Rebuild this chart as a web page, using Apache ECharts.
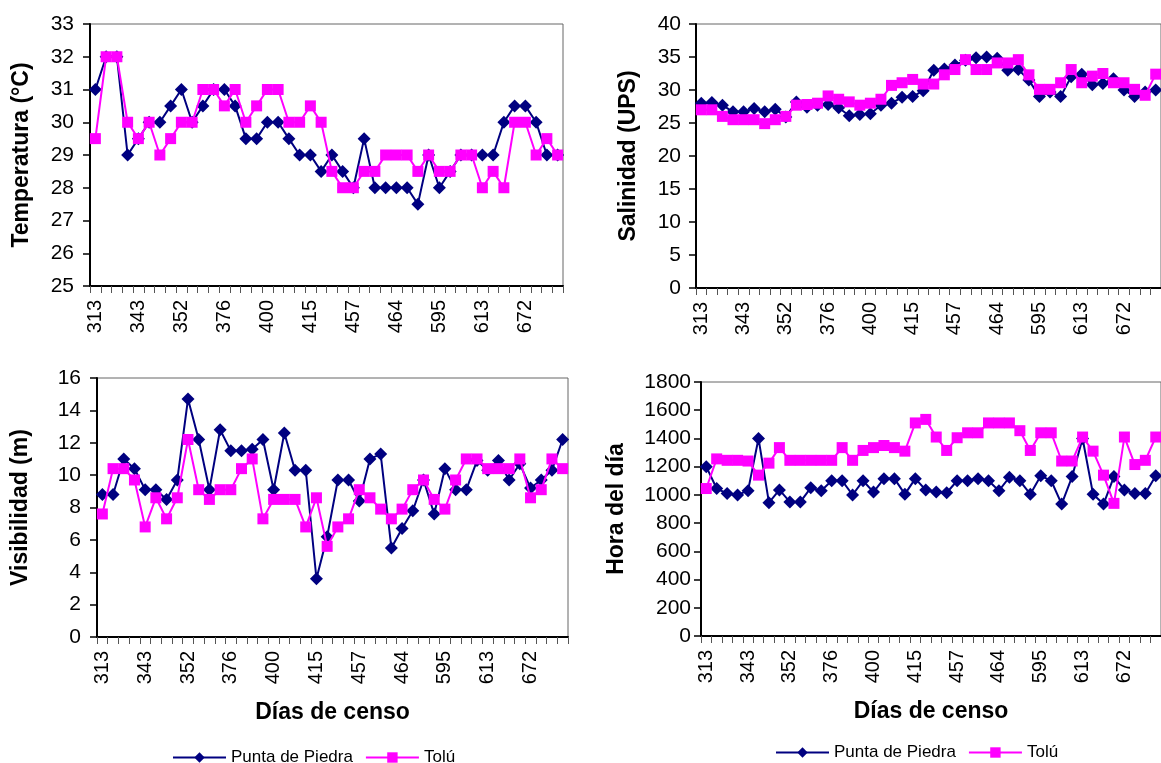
<!DOCTYPE html>
<html>
<head>
<meta charset="utf-8">
<script src="https://cdn.jsdelivr.net/npm/echarts@6/dist/echarts.min.js"></script>
<style>
  html, body { margin: 0; padding: 0; background: #ffffff; }
  #chart { width: 1161px; height: 763px; }
</style>
</head>
<body>
<div id="chart"></div>
<script>
// Census days: one label is printed for every fourth census
const tickLabels = ['313', '343', '352', '376', '400', '415', '457', '464', '595', '613', '672'];
const censusCount = 44;

const seriesNames = ['Punta de Piedra', 'Tolú'];

// Temperatura (°C)
const temperaturaPunta = [31, 32, 32, 29, 29.5, 30, 30, 30.5, 31, 30, 30.5, 31, 31, 30.5, 29.5, 29.5, 30, 30, 29.5, 29, 29, 28.5, 29, 28.5, 28, 29.5, 28, 28, 28, 28, 27.5, 29, 28, 28.5, 29, 29, 29, 29, 30, 30.5, 30.5, 30, 29, 29];
const temperaturaTolu = [29.5, 32, 32, 30, 29.5, 30, 29, 29.5, 30, 30, 31, 31, 30.5, 31, 30, 30.5, 31, 31, 30, 30, 30.5, 30, 28.5, 28, 28, 28.5, 28.5, 29, 29, 29, 28.5, 29, 28.5, 28.5, 29, 29, 28, 28.5, 28, 30, 30, 29, 29.5, 29];

// Salinidad (UPS)
const salinidadPunta = [28, 28.1, 27.7, 26.7, 26.7, 27.2, 26.7, 27.1, 25.9, 28.2, 27.4, 27.7, 27.8, 27.3, 26.1, 26.3, 26.4, 27.7, 28, 28.9, 29, 29.9, 33, 33.2, 33.8, 34.5, 34.9, 35, 34.8, 33, 33.1, 31.5, 29, 29.7, 29, 32, 32.4, 30.8, 31, 31.7, 30, 29, 29.7, 30];
const salinidadTolu = [27, 27, 26, 25.5, 25.5, 25.5, 24.9, 25.5, 26, 27.7, 27.8, 28, 29.1, 28.6, 28.2, 27.7, 28, 28.6, 30.7, 31.1, 31.6, 30.9, 30.9, 32.3, 33.1, 34.6, 33.1, 33.1, 34.1, 34.1, 34.6, 32.3, 30.1, 30.1, 31.1, 33.1, 31.1, 32.1, 32.5, 31.1, 31.1, 30.1, 29.2, 32.4];

// Visibilidad (m)
const visibilidadPunta = [8.8, 8.8, 11, 10.4, 9.1, 9.1, 8.5, 9.7, 14.7, 12.2, 9.1, 12.8, 11.5, 11.5, 11.6, 12.2, 9.1, 12.6, 10.3, 10.3, 3.6, 6.2, 9.7, 9.7, 8.4, 11, 11.3, 5.5, 6.7, 7.8, 9.7, 7.6, 10.4, 9.1, 9.1, 10.9, 10.3, 10.9, 9.7, 10.7, 9.2, 9.7, 10.3, 12.2];
const visibilidadTolu = [7.6, 10.4, 10.4, 9.7, 6.8, 8.6, 7.3, 8.6, 12.2, 9.1, 8.5, 9.1, 9.1, 10.4, 11, 7.3, 8.5, 8.5, 8.5, 6.8, 8.6, 5.6, 6.8, 7.3, 9.1, 8.6, 7.9, 7.3, 7.9, 9.1, 9.7, 8.5, 7.9, 9.7, 11, 11, 10.4, 10.4, 10.4, 11, 8.6, 9.1, 11, 10.4];

// Hora del día
const horaPunta = [1200, 1045, 1010, 1000, 1030, 1400, 945, 1035, 950, 950, 1050, 1030, 1100, 1100, 1000, 1100, 1020, 1115, 1115, 1005, 1115, 1035, 1020, 1015, 1100, 1100, 1115, 1100, 1030, 1125, 1100, 1005, 1135, 1100, 935, 1130, 1400, 1005, 935, 1130, 1035, 1010, 1010, 1135];
const horaTolu = [1045, 1255, 1245, 1245, 1240, 1140, 1225, 1335, 1245, 1245, 1245, 1245, 1245, 1335, 1245, 1315, 1335, 1350, 1335, 1310, 1510, 1535, 1410, 1315, 1405, 1440, 1440, 1510, 1510, 1510, 1455, 1315, 1440, 1440, 1240, 1240, 1410, 1310, 1140, 940, 1410, 1215, 1245, 1410];

// Full category list: labelled census days every fourth slot
const categories = Array.from({ length: censusCount }, (_, i) => (i % 4 === 0 ? tickLabels[i / 4] : ''));

const FONT = "'Liberation Sans', Arial, sans-serif";
const NAVY = '#000080';
const MAGENTA = '#FF00FF';

const panels = [
  { grid: { left: 90, top: 24, width: 473, height: 262 }, title: 'Temperatura (°C)', min: 25, max: 33, interval: 1, nameGap: 57, labelMargin: 16, xName: '', data: [temperaturaPunta, temperaturaTolu] },
  { grid: { left: 696, top: 24, width: 476, height: 264 }, title: 'Salinidad (UPS)', min: 0, max: 40, interval: 5, nameGap: 56, labelMargin: 15, xName: '', data: [salinidadPunta, salinidadTolu] },
  { grid: { left: 97, top: 378, width: 471, height: 259 }, title: 'Visibilidad (m)', min: 0, max: 16, interval: 2, nameGap: 65, labelMargin: 16, xName: 'Días de censo', data: [visibilidadPunta, visibilidadTolu] },
  { grid: { left: 701, top: 382, width: 463, height: 254 }, title: 'Hora del día', min: 0, max: 1800, interval: 200, nameGap: 73, labelMargin: 10, xName: 'Días de censo', data: [horaPunta, horaTolu] }
];

const grids = panels.map(p => Object.assign({
  show: true,
  borderColor: '#666666',
  borderWidth: 1,
  backgroundColor: 'transparent'
}, p.grid));

const xAxes = panels.map((p, k) => ({
  type: 'category',
  gridIndex: k,
  data: categories,
  boundaryGap: true,
  name: p.xName,
  nameLocation: 'middle',
  nameGap: 64,
  nameTextStyle: { fontFamily: FONT, fontSize: 23, fontWeight: 'bold', color: '#000' },
  axisLine: { show: true, lineStyle: { color: '#000', width: 2 } },
  axisTick: { show: true, interval: 0, length: 7, lineStyle: { color: '#555', width: 1 } },
  axisLabel: { interval: 3, rotate: 90, margin: 14, fontFamily: FONT, fontSize: 20, color: '#000' },
  splitLine: { show: false }
}));

const yAxes = panels.map((p, k) => ({
  type: 'value',
  gridIndex: k,
  min: p.min,
  max: p.max,
  interval: p.interval,
  name: p.title,
  nameLocation: 'middle',
  nameGap: p.nameGap,
  nameTextStyle: { fontFamily: FONT, fontSize: 23, fontWeight: 'bold', color: '#000' },
  axisLine: { show: true, lineStyle: { color: '#000', width: 2 } },
  axisTick: { show: true, length: 7, lineStyle: { color: '#000', width: 1.5 } },
  axisLabel: { margin: p.labelMargin, fontFamily: FONT, fontSize: 21, color: '#000', formatter: v => String(v) },
  splitLine: { show: false }
}));

const series = [];
panels.forEach((p, k) => {
  series.push({
    name: seriesNames[0],
    type: 'line',
    xAxisIndex: k,
    yAxisIndex: k,
    data: p.data[0],
    symbol: 'diamond',
    symbolSize: 13,
    showSymbol: true,
    showAllSymbol: true,
    itemStyle: { color: NAVY },
    lineStyle: { color: NAVY, width: 2 },
    z: 2
  });
  series.push({
    name: seriesNames[1],
    type: 'line',
    xAxisIndex: k,
    yAxisIndex: k,
    data: p.data[1],
    symbol: 'rect',
    symbolSize: 11,
    showSymbol: true,
    showAllSymbol: true,
    itemStyle: { color: MAGENTA },
    lineStyle: { color: MAGENTA, width: 2 },
    z: 3
  });
});

const legendBase = {
  data: seriesNames,
  orient: 'horizontal',
  itemWidth: 53,
  itemHeight: 13,
  itemGap: 12,
  padding: 0,
  textStyle: { fontFamily: FONT, fontSize: 17, color: '#000' },
  selectedMode: false
};

const option = {
  animation: false,
  backgroundColor: '#ffffff',
  grid: grids,
  xAxis: xAxes,
  yAxis: yAxes,
  legend: [
    Object.assign({ left: 172, top: 749 }, legendBase),
    Object.assign({ left: 775, top: 744 }, legendBase)
  ],
  series: series
};

const chart = echarts.init(document.getElementById('chart'), null, { renderer: 'canvas' });
chart.setOption(option);
</script>
</body>
</html>
